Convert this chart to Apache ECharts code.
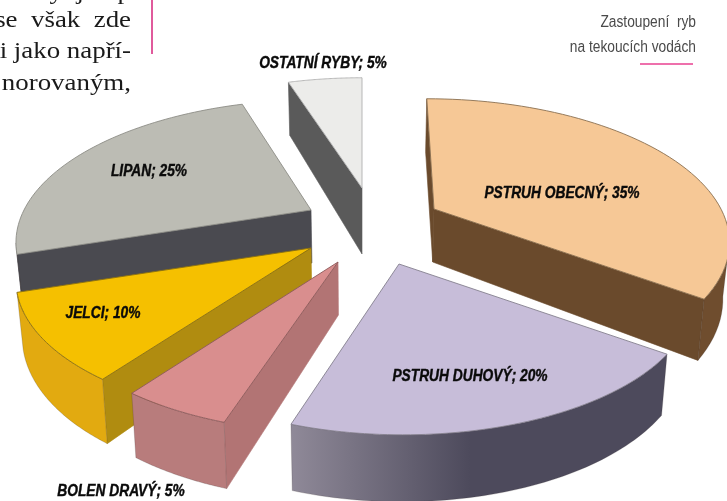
<!DOCTYPE html>
<html lang="cs">

<head>
    <meta charset="UTF-8">
    <title>Zastoupení ryb na tekoucích vodách</title>
    <script src="https://cdn.jsdelivr.net/npm/echarts@6/dist/echarts.min.js"></script>
    <style>
        html, body { margin: 0; padding: 0; background: #fff; }
        #chart { width: 727px; height: 501px; }
    </style>
</head>

<body>
    <div id="chart"></div>
    <script>
        var fishNames = ['PSTRUH OBECNÝ', 'PSTRUH DUHOVÝ', 'BOLEN DRAVÝ', 'JELCI', 'LIPAN', 'OSTATNÍ RYBY'];
        var fishShares = [35, 20, 5, 10, 25, 5];

        // tilted pie: projection of the unit circle, plus how far each slice is pulled out
        var pieCenter = [362, 230];
        var radiusX = 287, radiusY = 134, perspective = 0.2155, shear = 0.1, converge = 0.018;
        var explode = [[72, -21], [37, 34], [-24, 32], [-51, 18], [-51, -20], [0, -42]];
        var apexDepth = [53, 53, 53, 53, 53, 66];
        var labelPos = [[562, 194], [470, 377], [121, 492], [103, 314], [149, 172], [323, 64]];
        var topColors = ['#f6c896', '#c7bdd9', '#d98e8e', '#f5c000', '#bcbcb4', '#ececea'];
        var sideColors = ['#6a4a2c', '#4d4a5c', '#b27474', '#b08c10', '#4a4a50', '#5a5a5a'];
        var rimColors = ['#6f4d2e', '#4d4a5c', '#b87c7c', '#e2aa10', '#4a4a50', '#5a5a5a'];
        var edgeColors = ['#8a6f50', '#85808f', '#8c5a5a', '#8a6f10', '#8c8c86', '#b0b0b0'];
        var drawOrder = [5, 4, 0, 3, 2, 1];

        var total = fishShares.reduce(function (a, b) { return a + b; }, 0);

        function project(i, deg, r) {
            var t = deg * Math.PI / 180;
            var s = Math.sin(t) * r, c = Math.cos(t) * r;
            var w = 1 + perspective * c;
            return [
                pieCenter[0] + explode[i][0] + radiusX * s / w - shear * explode[i][0] * c,
                pieCenter[1] + explode[i][1] - radiusY * c / w
            ];
        }

        function dropped(i, deg, r) {
            var p = project(i, deg, r);
            var c = Math.cos(deg * Math.PI / 180) * r;
            var depth = r === 0 ? apexDepth[i] : 53 + 14 * Math.max(0, -c);
            return [p[0] + (pieCenter[0] - p[0]) * converge, p[1] + depth];
        }

        function wall(points, fill, stroke, z2) {
            return {
                type: 'polygon',
                z2: z2,
                shape: { points: points },
                style: { fill: fill, stroke: stroke, lineWidth: 0.6 }
            };
        }

        function renderSlice(params, api) {
            var i = params.dataIndex;
            var before = 0;
            for (var k = 0; k < i; k++) before += fishShares[k];
            var a0 = before / total * 360;
            var a1 = (before + fishShares[i]) / total * 360;
            var z = drawOrder.indexOf(i) * 10 + 1;
            var children = [];
            var apex = project(i, 0, 0);
            var apexLow = dropped(i, 0, 0);
            var steps = 60;
            var arc = [];
            var low = [];
            for (var n = 0; n <= steps; n++) {
                var deg = a0 + (a1 - a0) * n / steps;
                arc.push(project(i, deg, 1));
                low.push(dropped(i, deg, 1));
            }

            // only the walls that face the viewer
            if (arc[0][0] < apex[0]) {
                children.push(wall([apex, arc[0], low[0], apexLow], sideColors[i], sideColors[i], z));
            }
            if (apex[0] < arc[steps][0]) {
                children.push(wall([arc[steps], apex, apexLow, low[steps]], sideColors[i], sideColors[i], z));
            }
            var runTop = [], runLow = [];
            for (var m = 0; m <= steps; m++) {
                var facing = (m < steps && arc[m + 1][0] < arc[m][0]) || (m > 0 && arc[m][0] < arc[m - 1][0]);
                if (facing) {
                    runTop.push(arc[m]);
                    runLow.unshift(low[m]);
                }
            }
            if (runTop.length > 1) {
                var rimFill = rimColors[i];
                if (i === 1) {
                    rimFill = new echarts.graphic.LinearGradient(292, 0, 470, 0, [
                        { offset: 0, color: '#8f8998' },
                        { offset: 1, color: rimColors[i] }
                    ], true);
                }
                children.push(wall(runTop.concat(runLow), rimFill, 'rgba(60,50,50,0.35)', z));
            }

            children.push({
                type: 'polygon',
                z2: z + 1,
                shape: { points: [apex].concat(arc) },
                style: { fill: topColors[i], stroke: edgeColors[i], lineWidth: 0.9, lineJoin: 'round' }
            });
            children.push({
                type: 'text',
                z2: 200,
                x: labelPos[i][0],
                y: labelPos[i][1],
                scaleX: 0.86,
                style: {
                    text: fishNames[i] + '; ' + fishShares[i] + '%',
                    align: 'center',
                    verticalAlign: 'middle',
                    fill: '#0a0a0a',
                    stroke: '#0a0a0a',
                    lineWidth: 0.4,
                    font: 'italic bold 16px "Liberation Sans", sans-serif'
                }
            });
            return { type: 'group', children: children };
        }

        function captionText(text, y) {
            return { type: 'text', x: 696, y: y, scaleX: 0.86, style: { text: text, align: 'right', verticalAlign: 'middle', fill: '#4a4a4a', font: '16px "Liberation Sans", sans-serif' } };
        }

        function bodyText(text, y) {
            return { type: 'text', x: 131, y: y, scaleX: 1.12, style: { text: text, align: 'right', verticalAlign: 'middle', fill: '#1a1a1a', font: '24px "Liberation Serif", serif' } };
        }

        var myChart = echarts.init(document.getElementById('chart'), null, { renderer: 'canvas' });
        myChart.setOption({
            animation: false,
            backgroundColor: '#fff',
            series: [{
                type: 'custom',
                coordinateSystem: 'none',
                silent: true,
                data: fishShares,
                renderItem: renderSlice
            }],
            graphic: [
                captionText('Zastoupení  ryb', 23),
                captionText('na tekoucích vodách', 48),
                { type: 'rect', shape: { x: 640, y: 63, width: 53, height: 2 }, style: { fill: '#ee70ac' } },
                { type: 'rect', shape: { x: 151, y: 0, width: 2, height: 54 }, style: { fill: '#e05a9c' } },
                bodyText('y  j     p', -7),
                bodyText('se  však  zde', 21),
                bodyText('i jako napří-', 52),
                bodyText('norovaným,', 84)
            ]
        });
    </script>
</body>

</html>
